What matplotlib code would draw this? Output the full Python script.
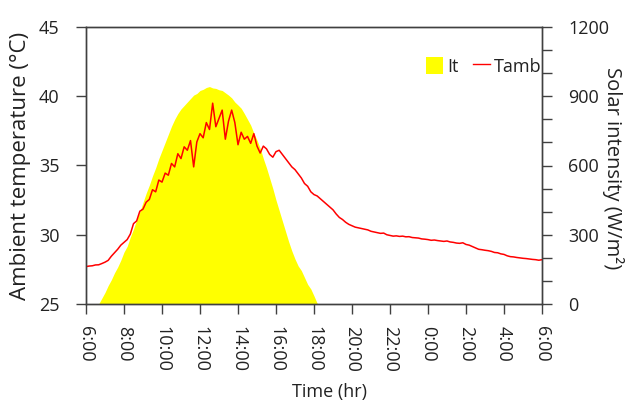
import numpy as np
import matplotlib
matplotlib.use('Agg')
import matplotlib.pyplot as plt
from matplotlib.patches import Patch
from matplotlib.lines import Line2D

plt.rcParams['font.family'] = ['Open Sans', 'DejaVu Sans']
plt.rcParams['font.size'] = 13

# sampling: 10 minute readings, hours counted from 6:00 (6 -> 30 = next 6:00)
step_hr = 10 / 60.0
temp_start = 6.0
solar_start = 6 + 40 / 60.0

# ambient temperature (degC), 6:00 -> 6:00 next day
tamb = [
    27.70, 27.74, 27.76, 27.82, 27.83, 27.92,  # 6
    28.02, 28.15, 28.45, 28.70, 28.95, 29.25,  # 7
    29.45, 29.65, 30.05, 30.80, 31.00, 31.70,  # 8
    31.85, 32.35, 32.55, 33.25, 33.10, 33.95,  # 9
    33.80, 34.45, 34.30, 35.15, 34.90, 35.85,  # 10
    35.50, 36.35, 36.10, 36.80, 34.90, 36.70,  # 11
    37.30, 37.00, 38.10, 37.60, 39.50, 37.80,  # 12
    38.40, 39.00, 36.90, 38.20, 39.00, 38.10,  # 13
    36.50, 37.40, 36.90, 37.10, 36.60, 37.30,  # 14
    36.40, 35.90, 36.40, 36.20, 35.80, 35.60,  # 15
    36.00, 36.10, 35.80, 35.50, 35.20, 34.90,  # 16
    34.70, 34.40, 34.10, 33.70, 33.50, 33.10,  # 17
    32.90, 32.80, 32.60, 32.40, 32.20, 32.00,  # 18
    31.80, 31.50, 31.25, 31.10, 30.90, 30.75,  # 19
    30.65, 30.55, 30.50, 30.45, 30.40, 30.35,  # 20
    30.25, 30.20, 30.15, 30.10, 30.12, 30.00,  # 21
    29.95, 29.90, 29.92, 29.88, 29.90, 29.85,  # 22
    29.86, 29.80, 29.78, 29.76, 29.70, 29.68,  # 23
    29.65, 29.60, 29.62, 29.58, 29.55, 29.52,  # 0
    29.55, 29.48, 29.45, 29.40, 29.38, 29.42,  # 1
    29.30, 29.25, 29.15, 29.05, 28.95, 28.92,  # 2
    28.88, 28.85, 28.80, 28.72, 28.70, 28.62,  # 3
    28.58, 28.48, 28.42, 28.40, 28.36, 28.33,  # 4
    28.30, 28.28, 28.25, 28.22, 28.20, 28.16,  # 5
    28.20,                                     # 6
]

# solar intensity (W/m2), 6:40 -> 18:20
solar = [
    0, 25, 50, 80, 105, 135, 160, 190,                 # 6:40 - 7:50
    225, 250, 290, 325, 365, 400,                      # 8
    440, 480, 515, 555, 590, 630,                      # 9
    665, 700, 735, 770, 800, 825,                      # 10
    845, 860, 875, 890, 905, 912,                      # 11
    925, 930, 938, 942, 936, 934,                      # 12
    928, 925, 915, 905, 893, 875,                      # 13
    862, 848, 825, 800, 775, 740,                      # 14
    710, 675, 630, 590, 545, 500,                      # 15
    450, 405, 360, 315, 270, 230,                      # 16
    195, 165, 145, 115, 85, 65,                        # 17
    35, 3, 0,                                          # 18
]

hour_ticks = [6, 8, 10, 12, 14, 16, 18, 20, 22, 24, 26, 28, 30]
hour_labels = ['6:00', '8:00', '10:00', '12:00', '14:00', '16:00', '18:00',
               '20:00', '22:00', '0:00', '2:00', '4:00', '6:00']

t_temp = temp_start + np.arange(len(tamb)) * step_hr
t_solar = solar_start + np.arange(len(solar)) * step_hr

axis_col = '#404040'
text_col = '#222222'

fig = plt.figure(figsize=(6.28, 4.03), dpi=100)
ax1 = fig.add_axes([86 / 628, 1 - 304 / 403, 456 / 628, 277 / 403])
ax2 = ax1.twinx()

ax2.fill_between(t_solar, 0, solar, color='#ffff00', lw=0)
ax2.set_ylim(0, 1200)
ax2.set_yticks([0, 300, 600, 900, 1200])
ax2.set_yticks(np.arange(0, 1201, 100), minor=True)

ax1.plot(t_temp, tamb, color='#ff0000', lw=1.1)
ax1.set_xlim(6, 30)
ax1.set_ylim(25, 45)
ax1.set_yticks([25, 30, 35, 40, 45])
ax1.set_xticks(hour_ticks)
ax1.set_xticklabels(hour_labels, rotation=270)

ax1.set_zorder(ax2.get_zorder() + 1)
ax1.patch.set_visible(False)

for ax in (ax1, ax2):
    for s in ax.spines.values():
        s.set_color(axis_col)
        s.set_linewidth(1.0)
    ax.tick_params(colors=axis_col, labelcolor=text_col, length=7, width=1.0)
ax1.tick_params(axis='y', pad=12)
ax1.tick_params(axis='x', pad=9)
ax2.tick_params(axis='y', pad=12)
ax2.tick_params(axis='y', which='minor', length=7, width=1.0, colors=axis_col)

ax1.set_xlabel('Time (hr)', color=text_col)
ax1.xaxis.set_label_coords(0.533, -0.285)
ax1.set_ylabel('Ambient temperature (\u00b0C)', color=text_col, fontsize=16,
               labelpad=6)
# right label sits close to the figure edge, as in the original
fig.text(607 / 628, 1 - 168 / 403, 'Solar intensity (W/m\u00b2)', color=text_col,
         fontsize=14.5, rotation=270, rotation_mode='anchor',
         ha='center', va='baseline')

handles = [Patch(facecolor='#ffff00', edgecolor='none'),
           Line2D([], [], color='#ff0000', lw=1.0)]
ax1.legend(handles, ['It', 'Tamb'], ncol=2, frameon=False,
           loc='upper right', bbox_to_anchor=(541 / 628, 1 - 57 / 403),
           bbox_transform=fig.transFigure, borderaxespad=0, borderpad=0,
           handlelength=0.95, handleheight=1.1, handletextpad=0.2,
           columnspacing=0.8, labelcolor=text_col)

fig.savefig('out.png', dpi=100)
